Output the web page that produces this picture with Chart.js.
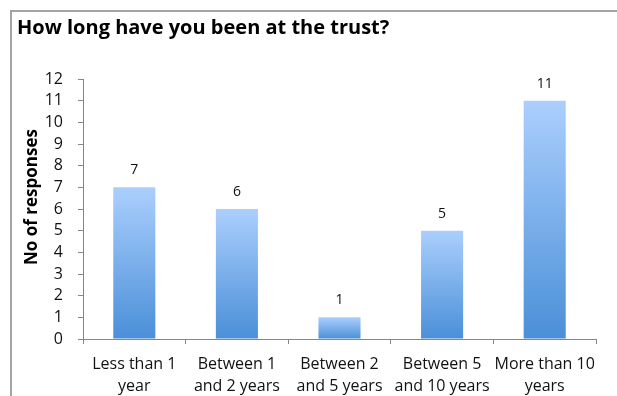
<!DOCTYPE html>
<html>
<head>
<meta charset="utf-8">
<script src="https://cdn.jsdelivr.net/npm/chart.js@4"></script>
<style>
    html, body { margin: 0; padding: 0; background: #fff; }
    #wrap { position: relative; width: 617px; height: 396px; }
</style>
</head>
<body>
<div id="wrap"><canvas id="tenureChart" width="617" height="396"></canvas></div>
<script>
const titleText = 'How long have you been at the trust?';
const axisTitle = 'No of responses';
const categories = [
    ['Less than 1', 'year'],
    ['Between 1', 'and 2 years'],
    ['Between 2', 'and 5 years'],
    ['Between 5', 'and 10 years'],
    ['More than 10', 'years']
];
const responses = [7, 6, 1, 5, 11];
const yMax = 12;

const FONT = "'Open Sans', sans-serif";

// Light-to-dark blue fill per bar, from its own top to the baseline
function barFill(ctx) {
    const chart = ctx.chart;
    const yScale = chart.scales.y;
    if (!chart.chartArea || !yScale || ctx.parsed === undefined) return '#7aaee8';
    const top = yScale.getPixelForValue(ctx.parsed.y);
    const bottom = yScale.getPixelForValue(0);
    const g = chart.ctx.createLinearGradient(0, top, 0, bottom);
    g.addColorStop(0, '#abcffd');
    g.addColorStop(1, '#4a8fd8');
    return g;
}

// Outer frame: only the left and top edges show
const framePlugin = {
    id: 'frame',
    beforeDraw(chart) {
        const c = chart.ctx;
        c.save();
        c.strokeStyle = '#a3a3a3';
        c.lineWidth = 2;
        c.beginPath();
        c.moveTo(11, chart.height);
        c.lineTo(11, 11);
        c.lineTo(chart.width, 11);
        c.stroke();
        c.restore();
    }
};

// Rotated y-axis title, sitting a little above the axis middle
const yTitlePlugin = {
    id: 'yTitle',
    afterDraw(chart) {
        const c = chart.ctx;
        const area = chart.chartArea;
        c.save();
        c.translate(32, (area.top + area.bottom) / 2 - 12);
        c.rotate(-Math.PI / 2);
        c.font = `bold 17px ${FONT}`;
        c.fillStyle = '#000';
        c.textAlign = 'center';
        c.textBaseline = 'middle';
        c.fillText(axisTitle, 0, 0);
        c.restore();
    }
};

// Value printed above each bar
const valueLabels = {
    id: 'valueLabels',
    afterDatasetsDraw(chart) {
        const c = chart.ctx;
        const meta = chart.getDatasetMeta(0);
        c.save();
        c.font = `14px ${FONT}`;
        c.fillStyle = '#111';
        c.textAlign = 'center';
        c.textBaseline = 'middle';
        meta.data.forEach((bar, i) => {
            c.fillText(String(responses[i]), bar.x, bar.y - 17);
        });
        c.restore();
    }
};

new Chart(document.getElementById('tenureChart'), {
    type: 'bar',
    data: {
        labels: categories,
        datasets: [{
            data: responses,
            backgroundColor: barFill,
            borderWidth: 0,
            barPercentage: 0.82,
            categoryPercentage: 0.5
        }]
    },
    options: {
        responsive: false,
        animation: false,
        layout: { padding: { left: 17, right: 21, top: 16, bottom: 0 } },
        plugins: {
            legend: { display: false },
            tooltip: { enabled: false },
            title: {
                display: true,
                text: titleText,
                align: 'start',
                color: '#000',
                font: { family: FONT, size: 20, weight: 'bold', lineHeight: 1.2 },
                padding: { top: 0, bottom: 39 }
            }
        },
        scales: {
            x: {
                afterFit: (scale) => { scale.height = 57; },
                grid: {
                    display: true,
                    offset: true,
                    drawOnChartArea: false,
                    tickLength: 5,
                    color: '#868686'
                },
                border: { color: '#868686', width: 1 },
                ticks: {
                    color: '#111',
                    font: { family: FONT, size: 16, lineHeight: 1.375 },
                    maxRotation: 0,
                    autoSkip: false,
                    padding: 9
                }
            },
            y: {
                min: 0,
                max: yMax,
                afterFit: (scale) => { scale.width = 66; },
                grid: {
                    display: true,
                    drawOnChartArea: false,
                    tickLength: 5,
                    color: '#868686'
                },
                border: { color: '#868686', width: 1 },
                ticks: {
                    stepSize: 1,
                    autoSkip: false,
                    color: '#111',
                    font: { family: FONT, size: 16 },
                    padding: 15
                }
            }
        }
    },
    plugins: [framePlugin, valueLabels, yTitlePlugin]
});
</script>
</body>
</html>
